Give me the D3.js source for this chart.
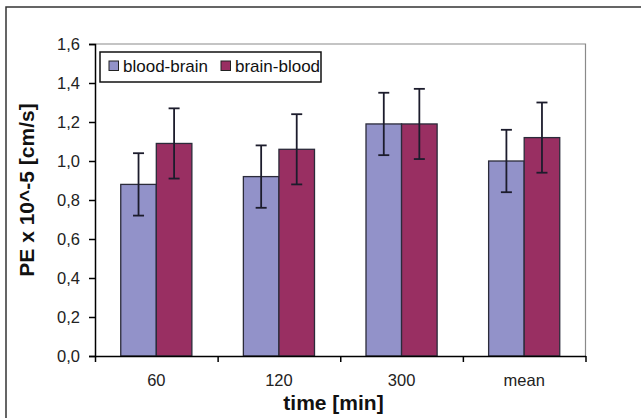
<!DOCTYPE html>
<html>
<head>
<meta charset="utf-8">
<script src="https://cdn.jsdelivr.net/npm/d3@7"></script>
<style>
  html, body { margin: 0; padding: 0; background: #fff; }
  svg { display: block; font-family: Arial, "Liberation Sans", sans-serif; }
</style>
</head>
<body>
<svg id="chart" width="641" height="418"></svg>
<script>
// ---- data ----
const categories = ["60", "120", "300", "mean"];
const seriesNames = ["blood-brain", "brain-blood"];
const bloodBrain = [0.88, 0.92, 1.19, 1.00];
const brainBlood = [1.09, 1.06, 1.19, 1.12];
const bloodBrainErr = [0.16, 0.16, 0.16, 0.16];
const brainBloodErr = [0.18, 0.18, 0.18, 0.18];
const yTicks = [0, 0.2, 0.4, 0.6, 0.8, 1.0, 1.2, 1.4, 1.6];
const xTitle = "time [min]";
const yTitle = "PE x 10^-5 [cm/s]";
const colors = ["#9292c9", "#992f62"];

const values = [bloodBrain, brainBlood];
const errors = [bloodBrainErr, brainBloodErr];

// ---- layout ----
const mLeft = 95, mRight = 585.5, mTop = 44, mBottom = 356;
const svg = d3.select("#chart");

svg.append("rect").attr("x", 0).attr("y", 0).attr("width", 641).attr("height", 418).attr("fill", "#fff");
// outer chart border (only left/top visible)
svg.append("rect").attr("x", 6).attr("y", 7).attr("width", 720).attr("height", 520)
  .attr("fill", "none").attr("stroke", "#333").attr("stroke-width", 1.5);

const y = d3.scaleLinear().domain([0, 1.6]).range([mBottom, mTop]);
const x0 = d3.scaleBand().domain(categories).range([mLeft, mRight]).padding(0);
const bw = x0.bandwidth();
const x1 = d3.scaleBand().domain(seriesNames).range([bw * 0.21, bw * 0.79]).padding(0);

// plot frame top/right
svg.append("path")
  .attr("d", `M${mLeft},${mTop}H${mRight}V${mBottom}`)
  .attr("fill", "none").attr("stroke", "#8a8a8a").attr("stroke-width", 1.2);

// bars
const data = [];
categories.forEach((c, i) => seriesNames.forEach((s, j) => data.push({c, s, j, v: values[j][i], e: errors[j][i]})));

svg.append("g").selectAll("rect").data(data).join("rect")
  .attr("x", d => x0(d.c) + x1(d.s))
  .attr("y", d => y(d.v))
  .attr("width", x1.bandwidth())
  .attr("height", d => y(0) - y(d.v))
  .attr("fill", d => colors[d.j])
  .attr("stroke", "#2b2b3a").attr("stroke-width", 1.3);

// error bars
const eg = svg.append("g").attr("stroke", "#1c1c2c").attr("stroke-width", 1.8);
data.forEach(d => {
  const cx = x0(d.c) + x1(d.s) + x1.bandwidth() / 2;
  const cap = 5.5;
  eg.append("line").attr("x1", cx).attr("x2", cx).attr("y1", y(d.v + d.e)).attr("y2", y(d.v - d.e));
  eg.append("line").attr("x1", cx - cap).attr("x2", cx + cap).attr("y1", y(d.v + d.e)).attr("y2", y(d.v + d.e));
  eg.append("line").attr("x1", cx - cap).attr("x2", cx + cap).attr("y1", y(d.v - d.e)).attr("y2", y(d.v - d.e));
});

// y axis
const fmt = v => d3.format(".1f")(v).replace(".", ",");
const yAxis = svg.append("g").attr("transform", `translate(${mLeft},0)`)
  .call(d3.axisLeft(y).tickValues(yTicks).tickFormat(fmt).tickSize(6).tickPadding(9));
yAxis.selectAll("text").attr("font-size", 16.5).attr("fill", "#222").attr("font-family", "Arial, 'Liberation Sans', sans-serif");
yAxis.selectAll("line, path").attr("stroke", "#000").attr("stroke-width", 1.5);

// x axis: boundary ticks
const xb = d3.scaleLinear().domain([0, categories.length]).range([mLeft, mRight]);
const xAxisTicks = svg.append("g").attr("transform", `translate(0,${mBottom})`)
  .call(d3.axisBottom(xb).tickValues(d3.range(categories.length + 1)).tickFormat("").tickSize(6).tickSizeOuter(0));
xAxisTicks.selectAll("line, path").attr("stroke", "#000").attr("stroke-width", 1.5);

// x axis labels
const xAxisLabels = svg.append("g").attr("transform", `translate(0,${mBottom})`)
  .call(d3.axisBottom(x0).tickSize(0).tickPadding(18));
xAxisLabels.select(".domain").remove();
xAxisLabels.selectAll("text").attr("font-size", 16.5).attr("fill", "#222").attr("font-family", "Arial, 'Liberation Sans', sans-serif");

// titles
svg.append("text").attr("x", 333.5).attr("y", 410)
  .attr("text-anchor", "middle").attr("font-weight", "bold").attr("font-size", 21).attr("fill", "#111")
  .text(xTitle);
svg.append("text").attr("transform", "translate(34,190) rotate(-90)")
  .attr("text-anchor", "middle").attr("font-weight", "bold").attr("font-size", 21).attr("fill", "#111")
  .text(yTitle);

// legend
const lg = svg.append("g");
lg.append("rect").attr("x", 100).attr("y", 52).attr("width", 221).attr("height", 30)
  .attr("fill", "#fff").attr("stroke", "#111").attr("stroke-width", 1.5);
const legX = [109, 221];
seriesNames.forEach((s, j) => {
  lg.append("rect").attr("x", legX[j]).attr("y", 61).attr("width", 9.5).attr("height", 9.5)
    .attr("fill", colors[j]).attr("stroke", "#222").attr("stroke-width", 1);
  lg.append("text").attr("x", legX[j] + 14).attr("y", 72)
    .attr("font-size", 17).attr("fill", "#111").text(s);
});
</script>
</body>
</html>
